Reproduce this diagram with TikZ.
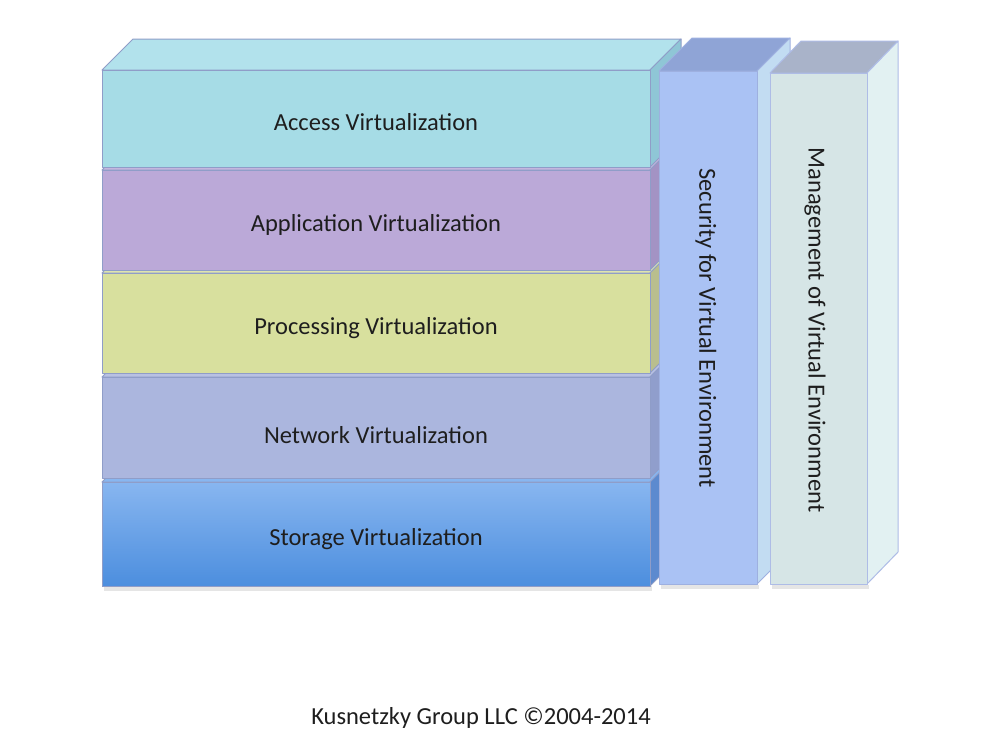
\documentclass[tikz,border=0pt]{standalone}
\usepackage{fontspec}
\setmainfont{Carlito}
\definecolor{edge}{HTML}{8F9DC8}
\definecolor{txt}{HTML}{1E1E1E}
\definecolor{accF}{HTML}{A6DCE6}
\definecolor{accS}{HTML}{8FC6D6}
\definecolor{accT}{HTML}{B2E2EC}
\definecolor{appF}{HTML}{BBA9D8}
\definecolor{appS}{HTML}{A393C4}
\definecolor{proF}{HTML}{D8E09E}
\definecolor{proS}{HTML}{B9BE8E}
\definecolor{netF}{HTML}{ABB6DE}
\definecolor{netS}{HTML}{909ECC}
\definecolor{stoT}{HTML}{88B6F0}
\definecolor{stoB}{HTML}{4C8EDE}
\definecolor{stoS}{HTML}{5C8ACF}
\definecolor{secF}{HTML}{AAC2F4}
\definecolor{secS}{HTML}{C2DCF2}
\definecolor{secT}{HTML}{8FA4D6}
\definecolor{secE}{HTML}{9EB0E0}
\definecolor{manF}{HTML}{D6E5E6}
\definecolor{manS}{HTML}{E2F1F2}
\definecolor{manT}{HTML}{A9B3C9}
\definecolor{manE}{HTML}{AEBCE6}
% #1 x1, #2 x2, #3 y1, #4 y2, #5 dx, #6 dy, #7 front style, #8 side style, #9 top style
\newcommand\boxthree[9]{%
  \path[#9] (#1,#3) -- (#1+#5,#3-#6) -- (#2+#5,#3-#6) -- (#2,#3) -- cycle;
  \path[#8] (#2,#3) -- (#2+#5,#3-#6) -- (#2+#5,#4-#6) -- (#2,#4) -- cycle;
  \path[#7] (#1,#3) rectangle (#2,#4);
}
\begin{document}
\begin{tikzpicture}[x=1pt,y=-1pt,
  lbl/.style={font=\fontsize{24.5}{28}\selectfont, text=txt, inner sep=0pt},
  face/.style={draw=edge, line width=1pt, line join=round}]
\useasboundingbox[fill=white] (0,0) rectangle (1000,748);
% faint shadow
\fill[black!10] (104,586) rectangle (652,591);
\fill[black!10] (661,585) rectangle (759,589);
\fill[black!10] (772,585) rectangle (869,589);
% left stack, bottom to top
\boxthree{102}{650}{482}{586}{31}{31}{face, top color=stoT, bottom color=stoB}{face, fill=stoS}{face, fill=stoT}
\boxthree{102}{650}{377}{478}{31}{31}{face, fill=netF}{face, fill=netS}{face, fill=netF!85!white}
\boxthree{102}{650}{273}{373}{31}{31}{face, fill=proF}{face, fill=proS}{face, fill=proF!85!white}
\boxthree{102}{650}{170}{270}{31}{31}{face, fill=appF}{face, fill=appS}{face, fill=appF!85!white}
\boxthree{102}{650}{70}{167}{31}{31}{face, fill=accF}{face, fill=accS}{face, fill=accT}
% security column
\boxthree{659}{757}{71}{584}{33}{33}{face, draw=secE, fill=secF}{face, draw=secE, fill=secS}{face, draw=secE, fill=secT}
% management column
\boxthree{770}{867}{73}{584}{31}{32}{face, draw=manE, fill=manF}{face, draw=manE, fill=manS}{face, draw=manE, fill=manT}
% labels
\node[lbl] (access) at (376,122) {Access Virtualization};
\node[lbl] (app) at (376,225) {Application Virtualization};
\node[lbl] (proc) at (376,328) {Processing Virtualization};
\node[lbl] (net) at (376,435) {Network Virtualization};
\node[lbl] (sto) at (376,539) {Storage Virtualization};
\node[lbl, rotate=-90] (sec) at (706,328) {Security for Virtual Environment};
\node[lbl, rotate=-90] (man) at (815,330) {Management of Virtual Environment};
\node[lbl] (foot) at (481,718) {Kusnetzky Group LLC ©2004-2014};
\end{tikzpicture}
\end{document}
